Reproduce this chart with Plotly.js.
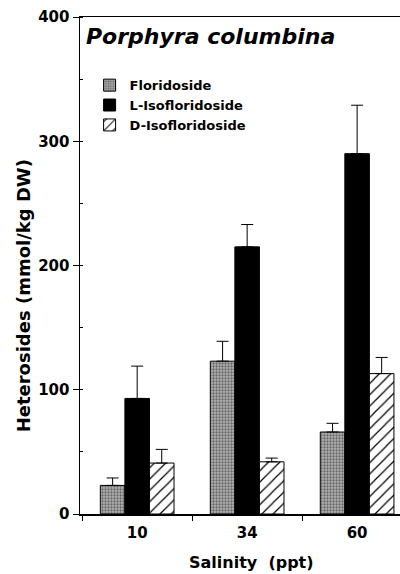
<!DOCTYPE html>
<html>
<head>
<meta charset="utf-8">
<script src="https://cdn.plot.ly/plotly-3.0.1.min.js"></script>
<style>html,body{margin:0;padding:0;background:#fff;}#chart{width:400px;height:574px;}</style>
</head>
<body>
<div id="chart"></div>
<script>
const salinity = ['10', '34', '60'];
const floridoside = [23, 123, 66];
const floridosideErr = [6, 16, 7];
const lIsofloridoside = [93, 215, 290];
const lIsofloridosideErr = [26, 18, 39];
const dIsofloridoside = [41, 42, 113];
const dIsofloridosideErr = [11, 3, 13];
const yTicks = [0, 100, 200, 300, 400];

const F = 'DejaVu Sans, Arial, sans-serif';
const errStyle = (arr) => ({type: 'data', array: arr, arrayminus: arr.map(() => 0), symmetric: false,
  color: '#000', thickness: 1, width: 6, visible: true});

const traces = [
  {type: 'bar', name: 'Floridoside', x: salinity, y: floridoside, error_y: errStyle(floridosideErr),
   marker: {color: '#9c9c9c', line: {color: '#000', width: 1},
     pattern: {shape: '.', bgcolor: '#b4b4b4', fgcolor: '#666', size: 3, solidity: 0.45}}},
  {type: 'bar', name: 'L-Isofloridoside', x: salinity, y: lIsofloridoside, error_y: errStyle(lIsofloridosideErr),
   marker: {color: '#000', line: {color: '#000', width: 1}}},
  {type: 'bar', name: 'D-Isofloridoside', x: salinity, y: dIsofloridoside, error_y: errStyle(dIsofloridosideErr),
   marker: {color: '#fff', line: {color: '#000', width: 1},
     pattern: {shape: '/', bgcolor: '#fff', fgcolor: '#000', size: 8, solidity: 0.15}}}
];

const layout = {
  width: 400, height: 574,
  margin: {l: 80, r: 0, t: 17, b: 60},
  paper_bgcolor: '#fff', plot_bgcolor: '#fff',
  barmode: 'group', bargap: 0.33, bargroupgap: 0,
  font: {family: F, color: '#000', size: 14},
  showlegend: true,
  legend: {x: 0.03, y: 0.893, xanchor: 'left', yanchor: 'top', bgcolor: 'rgba(0,0,0,0)',
    font: {family: F, size: 13, color: '#000', weight: 'bold'}, itemwidth: 30, tracegroupgap: 0},
  xaxis: {type: 'category', range: [-0.52, 2.39], showline: true, linecolor: '#000', linewidth: 1.5,
    mirror: true, ticks: 'outside', tickson: 'boundaries', ticklen: 5, tickcolor: '#000',
    showgrid: false, zeroline: false, fixedrange: true, ticklabelstandoff: 4,
    tickfont: {family: F, size: 15, weight: 'bold'}},
  yaxis: {range: [0, 400], tickvals: yTicks, ticktext: yTicks.map(String), showline: true, linecolor: '#000',
    linewidth: 1.5, ticks: 'outside', ticklen: 6, tickcolor: '#000', showgrid: false, zeroline: false,
    minor: {dtick: 50, ticks: 'inside', ticklen: 3, tickcolor: '#000', showgrid: false},
    tickfont: {family: F, size: 15, weight: 'bold'}},
  annotations: [
    {text: 'Porphyra columbina', xref: 'paper', yref: 'paper', x: 0.012, y: 0.99,
     xanchor: 'left', yanchor: 'top', showarrow: false,
     font: {family: F, size: 22, weight: 'bold', style: 'italic', color: '#000'}},
    {text: 'Heterosides (mmol/kg DW)', xref: 'paper', yref: 'paper', x: -0.178, y: 0.438,
     xanchor: 'center', yanchor: 'middle', textangle: -90, showarrow: false,
     font: {family: F, size: 18, weight: 'bold', color: '#000'}},
    {text: 'Salinity  (ppt)', xref: 'paper', yref: 'paper', x: 0.537, y: -0.098,
     xanchor: 'center', yanchor: 'middle', showarrow: false,
     font: {family: F, size: 16, weight: 'bold', color: '#000'}}
  ]
};

Plotly.newPlot('chart', traces, layout, {displayModeBar: false, staticPlot: true});
</script>
</body>
</html>
